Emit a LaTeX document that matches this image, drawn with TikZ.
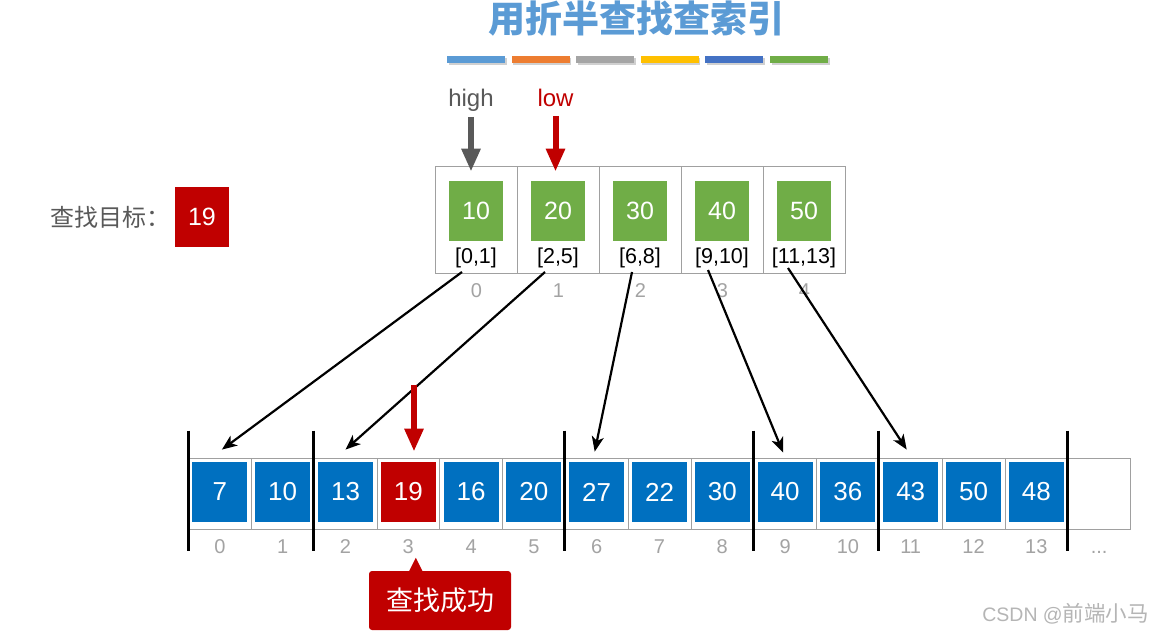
\documentclass[tikz,border=0pt]{standalone}
\usepackage{fontspec}
\setmainfont{Liberation Sans}
\newfontfamily\cjk{Noto Sans CJK SC}
\usetikzlibrary{arrows.meta,calc,shadows}
\definecolor{tblue}{HTML}{5B9BD5}
\definecolor{bOrange}{HTML}{ED7D31}
\definecolor{bGray}{HTML}{A5A5A5}
\definecolor{bYellow}{HTML}{FFC000}
\definecolor{bBlue}{HTML}{4472C4}
\definecolor{ggreen}{HTML}{70AD47}
\definecolor{bblue}{HTML}{0070C0}
\definecolor{cred}{HTML}{C00000}
\definecolor{dgray}{HTML}{595959}
\definecolor{lgray}{HTML}{A0A0A0}
\definecolor{igray}{HTML}{A3A3A3}
\definecolor{wmgray}{HTML}{B5B5B5}
\begin{document}
\begin{tikzpicture}[x=1pt,y=-1pt,
  tcell/.style={draw=lgray, line width=0.8pt, minimum width=82pt, minimum height=107pt, inner sep=0pt},
  bcell/.style={draw=lgray, line width=0.8pt, minimum width=62.8pt, minimum height=71pt, inner sep=0pt},
  sq/.style={minimum width=55pt, minimum height=60pt, inner sep=0pt, text=white, font=\fontsize{26}{26}\selectfont},
  gsq/.style={sq, fill=ggreen, minimum width=54pt, font=\fontsize{25}{25}\selectfont},
  ivl/.style={font=\fontsize{21.5}{22}\selectfont, inner sep=0pt},
  idx/.style={font=\fontsize{20}{20}\selectfont, text=igray, inner sep=0pt},
  sepline/.style={line width=3pt, black},
  fat/.style={line width=6pt, -{Triangle[length=23pt,width=18pt]}},
  link/.style={line width=2.2pt, -{Stealth[length=15pt,width=12pt,inset=4pt]}},
  bar/.style={minimum width=58pt, minimum height=7pt, inner sep=0pt,
    drop shadow={shadow xshift=1.5pt, shadow yshift=-2.5pt, opacity=0.3, fill=black!60}},
]
\useasboundingbox (0,0) rectangle (1156,636);
\fill[white] (0,0) rectangle (1156,636);

% title
\node[anchor=base, text=tblue, inner sep=0pt, font=\cjk\bfseries\fontsize{37}{37}\selectfont] (title) at (636,33) {用折半查找查索引};
\foreach \c [count=\i from 0] in {tblue,bOrange,bGray,bYellow,bBlue,ggreen}
  \node[bar, fill=\c] (bar\i) at ({476+64.6*\i},59.5) {};

% top index table
\foreach \v/\r [count=\i from 0] in {10/{[0,1]},20/{[2,5]},30/{[6,8]},40/{[9,10]},50/{[11,13]}}{
  \node[tcell] (t\i) at ({476.5+82*\i},219.5) {};
  \node[gsq] (g\i) at ({476+82*\i},211) {\v};
  \node[ivl] (l\i) at ({476+82*\i},258) {\r};
  \node[idx] (ti\i) at ({476.5+82*\i},290.5) {\i};
}

% high / low pointers
\node[anchor=base, inner sep=0pt, text=dgray, font=\fontsize{24}{24}\selectfont] (hi) at (471,107) {high};
\node[anchor=base, inner sep=0pt, text=cred, font=\fontsize{24}{24}\selectfont] (lo) at (555.5,107) {low};
\draw[fat, dgray] ($(hi.base)+(0,10)$) -- ($(t0.north)+(-5.5,6)$);
\draw[fat, cred] ($(lo.base)+(0,9)$) -- ($(t1.north)+(-3,6)$);

% goal
\node[anchor=west, inner sep=0pt, text=dgray, font=\cjk\fontsize{24}{24}\selectfont] (goal) at (50,217) {查找目标：};
\node[sq, fill=cred, minimum width=54pt, minimum height=60pt, font=\fontsize{25}{25}\selectfont] (goalv) at (202,217) {19};

% bottom array
\foreach \v/\c [count=\i from 0] in {7/bblue,10/bblue,13/bblue,19/cred,16/bblue,20/bblue,27/bblue,22/bblue,30/bblue,40/bblue,36/bblue,43/bblue,50/bblue,48/bblue}{
  \node[bcell] (c\i) at ({219.9+62.8*\i},493.5) {};
  \node[sq, fill=\c] (b\i) at ({219.9+62.8*\i},492) {\v};
  \node[idx] (bi\i) at ({219.9+62.8*\i},546.5) {\i};
}
\node[bcell] (c14) at ({219.9+62.8*14},493.5) {};
\node[idx, anchor=base] (dots) at ({219.9+62.8*14},553) {...};

\foreach \k in {0,2,6,9,11,14}
  \draw[sepline] ($(c\k.north west)+(0,-27)$) -- ($(c\k.south west)+(0,22)$);

% links
\draw[link] ($(l0)+(-14,14)$) -- ($(c0.north)+(2,-8)$);
\draw[link] ($(l1)+(-13,14)$) -- ($(c2.north)+(0,-8)$);
\draw[link] ($(l2)+(-8,14)$) -- ($(c6.north)+(-2,-6)$);
\draw[link] ($(l3)+(-14,12)$) -- ($(c9.north)+(-2,-5)$);
\draw[link] ($(l4)+(-16,10)$) -- ($(c11.north)+(-4,-8)$);

% found pointer
\coordinate (rtop) at ($(c3.north)+(5.7,-73)$);
\draw[fat, cred] (rtop) -- ($(c3.north)+(5.7,-6)$);

% callout
\node[fill=cred, rounded corners=3pt, minimum width=142pt, minimum height=59pt, inner sep=0pt,
  text=white, font=\cjk\fontsize{27}{27}\selectfont] (ok) at (440,600.5) {查找成功};
\fill[cred] ($(ok.north west)+(40,1)$) -- ($(ok.north west)+(47,-13)$) -- ($(ok.north west)+(54,1)$) -- cycle;

% watermark
\node[anchor=east, inner sep=0pt, text=wmgray, font=\fontsize{19.5}{20}\selectfont] (wm) at (1149,614) {CSDN @{\cjk\fontsize{21.5}{22}\selectfont 前端小马}};
\end{tikzpicture}
\end{document}
